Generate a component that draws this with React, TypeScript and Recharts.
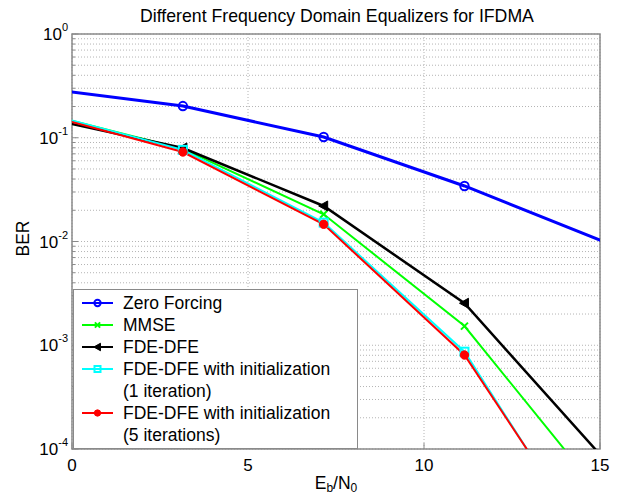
import React from "react";
import {
  CartesianGrid,
  Label,
  Legend,
  Line,
  LineChart,
  ReferenceArea,
  XAxis,
  YAxis
} from "recharts";

// Eb/N0 positions of the simulated points (first and last fall just outside the axes)
const ebN0 = [-0.85, 3.15, 7.15, 11.15, 15.15];

const zeroForcing = [0.3, 0.202, 0.1016, 0.0343, 0.00986];
const mmse = [0.1725, 0.078, 0.0183, 0.00153, 0.0000324];
const fdeDfe = [0.1566, 0.0797, 0.022, 0.00254, 0.0000777];
const fdeDfeInit1 = [0.175, 0.0764, 0.0152, 0.000867, 0.0000066];
const fdeDfeInit5 = [0.17, 0.0729, 0.01465, 0.000805, 0.0000072];

const seriesKeys = ["zf", "mmse", "dfe", "init1", "init5"];
const seriesNames = [
  "Zero Forcing",
  "MMSE",
  "FDE-DFE",
  "FDE-DFE with initialization\n(1 iteration)",
  "FDE-DFE with initialization\n(5 iterations)"
];
const seriesColors = ["#0000ff", "#00ff00", "#000000", "#00ffff", "#ff0000"];
const seriesWidths = [3, 2, 2.5, 2, 2];

const xTicks = [0, 5, 10, 15];
const yDecades = [1e-4, 1e-3, 1e-2, 1e-1, 1];
const yMinorSteps = [2, 3, 4, 5, 6, 7, 8, 9];

const title = "Different Frequency Domain Equalizers for IFDMA";
const yLabel = "BER";

const yTicks = [
  ...yDecades,
  ...yDecades.slice(0, -1).flatMap((d) => yMinorSteps.map((m) => m * d))
].sort((a, b) => a - b);

const data = ebN0.map((x, i) => ({
  x,
  zf: zeroForcing[i],
  mmse: mmse[i],
  dfe: fdeDfe[i],
  init1: fdeDfeInit1[i],
  init5: fdeDfeInit5[i]
}));

const FONT = '"Liberation Sans", Arial, Helvetica, sans-serif';
const AXIS = "#8a8a8a";

const isDecade = (v: number) => {
  const l = Math.log10(v);
  return Math.abs(l - Math.round(l)) < 1e-6;
};

// s scales the marker (legend markers are drawn smaller)
const marker = (kind: string, cx: number, cy: number, color: string, key?: any, s = 1) => {
  if (cx == null || cy == null || isNaN(cx) || isNaN(cy)) return <g key={key} />;
  switch (kind) {
    case "zf":
      return <circle key={key} cx={cx} cy={cy} r={4.2 * s} fill="none" stroke={color} strokeWidth={2} />;
    case "mmse":
      return (
        <g key={key} stroke={color} strokeWidth={2}>
          <line x1={cx - 3.5 * s} y1={cy - 3.5 * s} x2={cx + 3.5 * s} y2={cy + 3.5 * s} />
          <line x1={cx - 3.5 * s} y1={cy + 3.5 * s} x2={cx + 3.5 * s} y2={cy - 3.5 * s} />
        </g>
      );
    case "dfe":
      return (
        <polygon
          key={key}
          points={`${cx - 5 * s},${cy} ${cx + 4 * s},${cy - 5 * s} ${cx + 4 * s},${cy + 5 * s}`}
          fill={color}
          stroke={color}
        />
      );
    case "init1":
      return (
        <rect
          key={key}
          x={cx - 4 * s}
          y={cy - 4 * s}
          width={8 * s}
          height={8 * s}
          fill="none"
          stroke={color}
          strokeWidth={2}
        />
      );
    default:
      return <circle key={key} cx={cx} cy={cy} r={4.2 * s} fill={color} stroke={color} />;
  }
};

const LeftTick = (props: any) => {
  const { x, y, payload } = props;
  const v = payload.value;
  const major = isDecade(v);
  const exp = Math.round(Math.log10(v));
  return (
    <g>
      <line x1={x} y1={y} x2={x + (major ? 6 : 3)} y2={y} stroke={AXIS} strokeWidth={1} />
      {major && (
        <text x={x - 4} y={y + 6} textAnchor="end" fontSize={17} fill="#000" fontFamily={FONT}>
          <tspan>10</tspan>
          <tspan dy={-9} fontSize={11}>{exp}</tspan>
        </text>
      )}
    </g>
  );
};

const RightTick = (props: any) => {
  const { x, y, payload } = props;
  const major = isDecade(payload.value);
  return <line x1={x} y1={y} x2={x - (major ? 6 : 3)} y2={y} stroke={AXIS} strokeWidth={1} />;
};

const BottomTick = (props: any) => {
  const { x, y, payload } = props;
  return (
    <g>
      <line x1={x} y1={y} x2={x} y2={y - 6} stroke={AXIS} strokeWidth={1} />
      <text x={x} y={y + 22} textAnchor="middle" fontSize={17} fill="#000" fontFamily={FONT}>
        {payload.value}
      </text>
    </g>
  );
};

const XTitle = (props: any) => {
  const vb = props.viewBox;
  return (
    <text
      x={vb.x + vb.width / 2}
      y={vb.y + 40}
      textAnchor="middle"
      fontSize={17.5}
      fill="#000"
      fontFamily={FONT}
    >
      <tspan>E</tspan>
      <tspan fontSize={12} dy={3}>b</tspan>
      <tspan dy={-3}>/N</tspan>
      <tspan fontSize={12} dy={3}>0</tspan>
    </text>
  );
};

const YTitle = (props: any) => {
  const vb = props.viewBox;
  const cx = 29;
  const cy = vb.y + vb.height / 2 - 3;
  return (
    <text
      x={cx}
      y={cy}
      textAnchor="middle"
      fontSize={17.5}
      fill="#000"
      fontFamily={FONT}
      transform={`rotate(-90, ${cx}, ${cy})`}
    >
      {yLabel}
    </text>
  );
};

const LegendBox = (props: any) => {
  const payload = [...(props.payload || [])].sort(
    (a: any, b: any) => seriesKeys.indexOf(a.dataKey) - seriesKeys.indexOf(b.dataKey)
  );
  return (
    <div
      style={{
        boxSizing: "border-box",
        width: 285,
        height: 160,
        border: `1.5px solid ${AXIS}`,
        background: "#fff",
        padding: "2px 0 0 8px",
        fontFamily: FONT,
        fontSize: 17.5,
        lineHeight: "22px",
        color: "#000"
      }}
    >
      {payload.map((entry: any) => (
        <div key={entry.dataKey} style={{ display: "flex", alignItems: "flex-start" }}>
          <svg width={31} height={22} style={{ flex: "none", marginRight: 10 }}>
            <line x1={0} y1={11} x2={31} y2={11} stroke={entry.color} strokeWidth={2} />
            {marker(entry.dataKey, 15.5, 11, entry.color, undefined, 0.75)}
          </svg>
          <div style={{ whiteSpace: "pre-line" }}>{entry.value}</div>
        </div>
      ))}
    </div>
  );
};

export default function App() {
  return (
    <div style={{ position: "absolute", left: 0, top: 0, width: 624, height: 497, background: "#fff" }}>
      <div
        style={{
          position: "absolute",
          left: 72,
          top: 6,
          width: 530,
          textAlign: "center",
          fontFamily: FONT,
          fontSize: 17.7,
          lineHeight: "20px",
          color: "#000",
          whiteSpace: "nowrap"
        }}
      >
        {title}
      </div>
      <LineChart width={624} height={497} data={data} margin={{ top: 34, right: 24, bottom: 0, left: 0 }}>
        <CartesianGrid stroke="#b4b4b4" strokeDasharray="1 2" />
        <XAxis
          dataKey="x"
          type="number"
          domain={[0, 15]}
          ticks={xTicks}
          allowDataOverflow
          height={48}
          tickSize={0}
          tickMargin={0}
          axisLine={false}
          tickLine={false}
          tick={<BottomTick />}
          interval={0}
        >
          <Label content={<XTitle />} />
        </XAxis>
        <YAxis
          scale="log"
          type="number"
          domain={[1e-4, 1]}
          ticks={yTicks}
          allowDataOverflow
          width={72}
          tickSize={0}
          tickMargin={0}
          axisLine={false}
          tickLine={false}
          tick={<LeftTick />}
          interval={0}
        >
          <Label content={<YTitle />} />
        </YAxis>
        <YAxis
          yAxisId="right"
          orientation="right"
          scale="log"
          type="number"
          domain={[1e-4, 1]}
          ticks={yTicks}
          allowDataOverflow
          width={0}
          tickSize={0}
          tickMargin={0}
          axisLine={false}
          tickLine={false}
          tick={<RightTick />}
          interval={0}
        />
        <ReferenceArea x1={0} x2={15} y1={1e-4} y2={1} fill="none" stroke={AXIS} strokeWidth={1.5} />
        {seriesKeys.map((key, i) => (
          <Line
            key={key}
            dataKey={key}
            name={seriesNames[i]}
            stroke={seriesColors[i]}
            strokeWidth={seriesWidths[i]}
            isAnimationActive={false}
            activeDot={false}
            dot={(p: any) => marker(key, p.cx, p.cy, seriesColors[i], `${key}-${p.index}`)}
          />
        ))}
        <Legend
          layout="horizontal"
          verticalAlign="middle"
          align="center"
          content={<LegendBox />}
          wrapperStyle={{ position: "absolute", left: 73, top: 289, width: 285, height: 160 }}
        />
      </LineChart>
    </div>
  );
}
